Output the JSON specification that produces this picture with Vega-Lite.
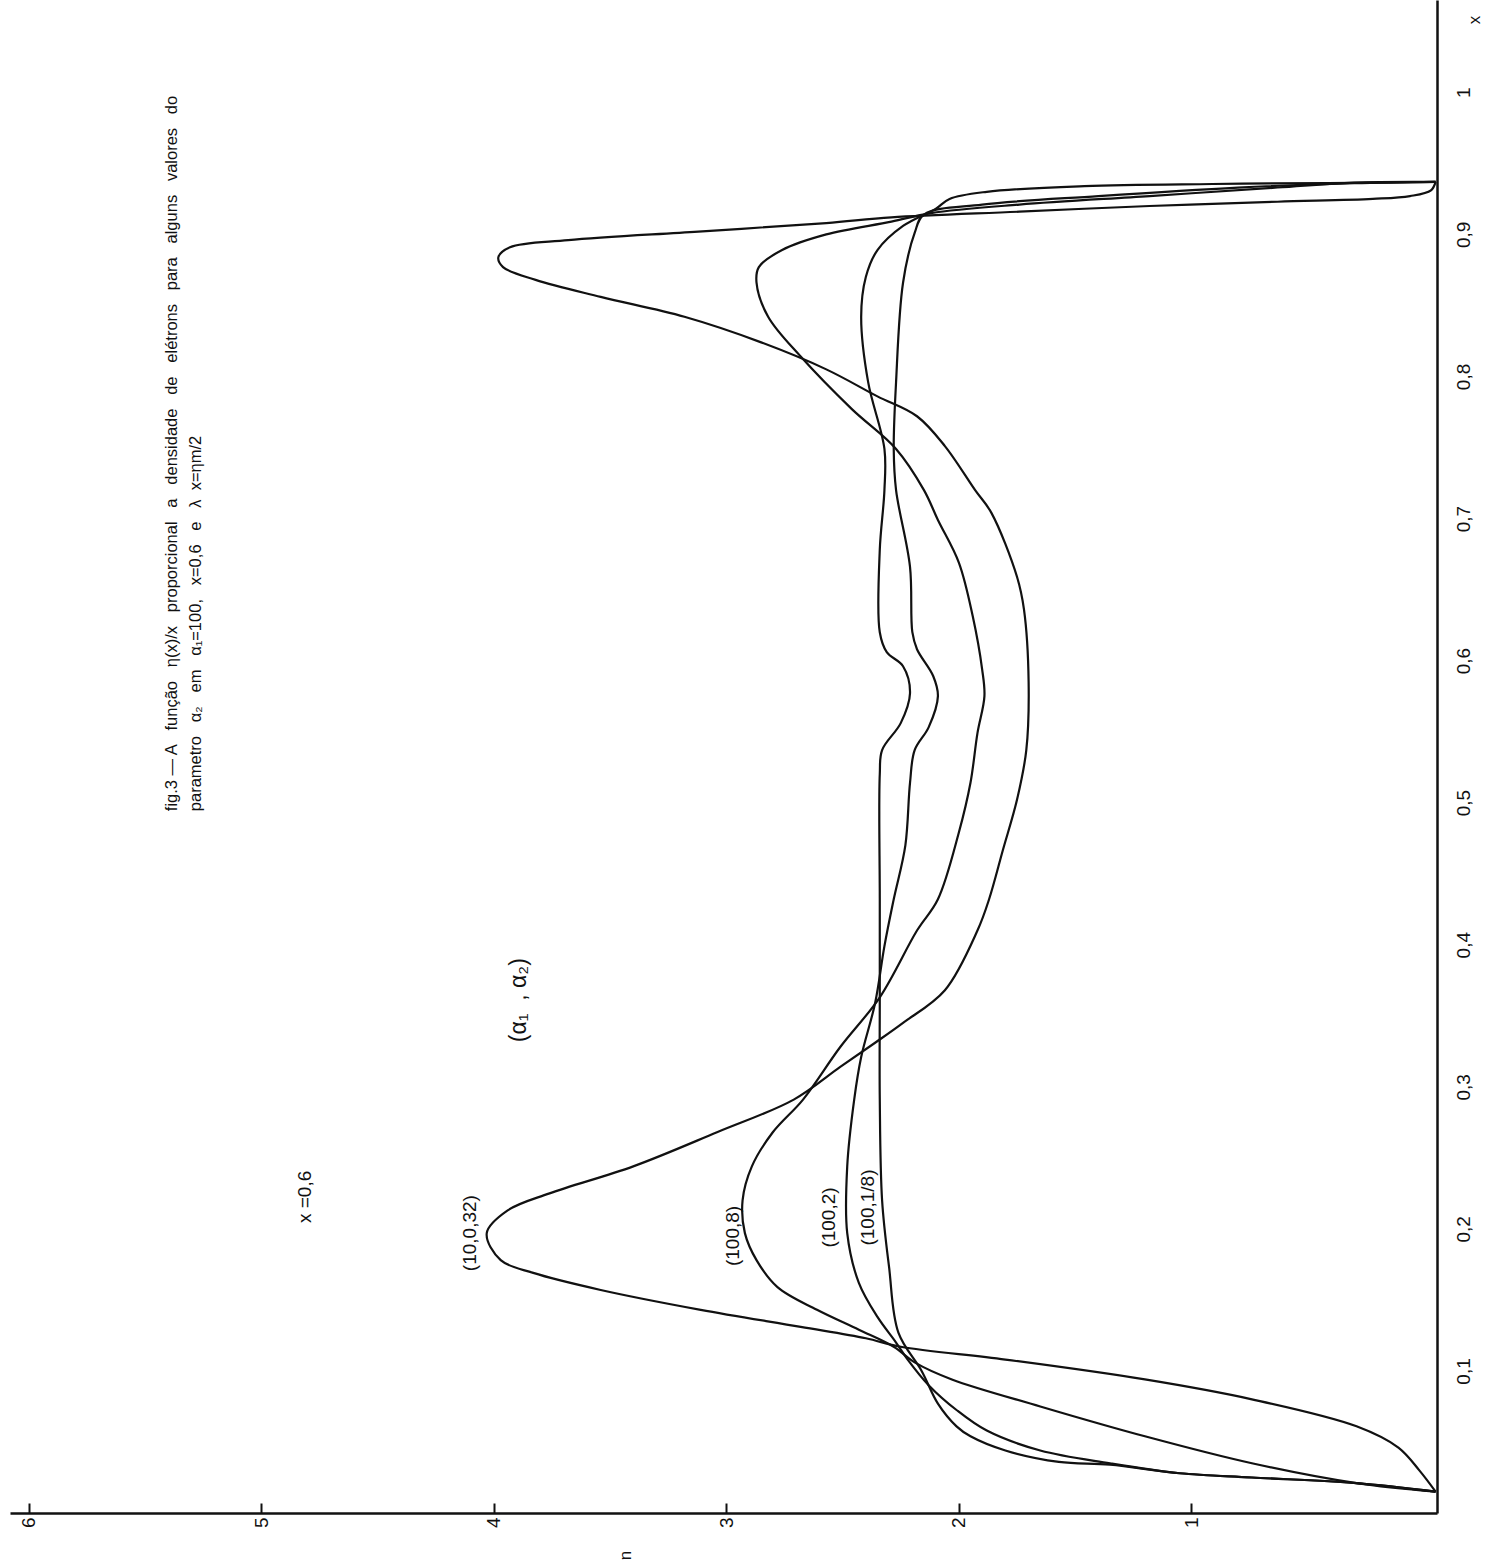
{
 "$schema": "https://vega.github.io/schema/vega-lite/v6.json",
 "width": 1427, "height": 1513,
 "autosize": "none",
 "padding": {"left": 10, "top": 0, "right": 63, "bottom": 53},
 "background": "white",
 "config": {"view": {"stroke": null}, "font": "Liberation Sans", "text": {"font": "Liberation Sans", "color": "#111"}},
 "layer": [
  {
   "data": {"values": [
    {"s":"A","x":0.015,"n":-0.05},{"s":"A","x":0.030,"n":0.02},{"s":"A","x":0.046,"n":0.11},{"s":"A","x":0.061,"n":0.29},{"s":"A","x":0.080,"n":0.74},{"s":"A","x":0.094,"n":1.2},{"s":"A","x":0.108,"n":1.8},{"s":"A","x":0.117,"n":2.25},{"s":"A","x":0.123,"n":2.40},{"s":"A","x":0.131,"n":2.68},{"s":"A","x":0.143,"n":3.11},{"s":"A","x":0.157,"n":3.54},{"s":"A","x":0.169,"n":3.83},{"s":"A","x":0.178,"n":3.97},{"s":"A","x":0.197,"n":4.03},{"s":"A","x":0.213,"n":3.94},{"s":"A","x":0.225,"n":3.76},{"s":"A","x":0.244,"n":3.40},{"s":"A","x":0.268,"n":3.04},{"s":"A","x":0.291,"n":2.71},{"s":"A","x":0.314,"n":2.51},{"s":"A","x":0.331,"n":2.36},{"s":"A","x":0.345,"n":2.24},{"s":"A","x":0.368,"n":2.06},{"s":"A","x":0.41,"n":1.92},{"s":"A","x":0.432,"n":1.87},{"s":"A","x":0.467,"n":1.81},{"s":"A","x":0.502,"n":1.75},{"s":"A","x":0.537,"n":1.71},{"s":"A","x":0.585,"n":1.70},{"s":"A","x":0.636,"n":1.72},{"s":"A","x":0.659,"n":1.75},{"s":"A","x":0.704,"n":1.86},{"s":"A","x":0.720,"n":1.93},{"s":"A","x":0.751,"n":2.06},{"s":"A","x":0.772,"n":2.18},{"s":"A","x":0.786,"n":2.35},{"s":"A","x":0.805,"n":2.57},{"s":"A","x":0.824,"n":2.85},{"s":"A","x":0.842,"n":3.18},{"s":"A","x":0.856,"n":3.54},{"s":"A","x":0.868,"n":3.82},{"s":"A","x":0.877,"n":3.96},{"s":"A","x":0.884,"n":3.98},{"s":"A","x":0.891,"n":3.93},{"s":"A","x":0.896,"n":3.68},{"s":"A","x":0.902,"n":3.12},{"s":"A","x":0.908,"n":2.57},{"s":"A","x":0.912,"n":2.29},{"s":"A","x":0.916,"n":1.74},{"s":"A","x":0.920,"n":1.18},{"s":"A","x":0.923,"n":0.63},{"s":"A","x":0.925,"n":0.22},{"s":"A","x":0.927,"n":0.06},{"s":"A","x":0.931,"n":-0.03},{"s":"A","x":0.937,"n":-0.05},

    {"s":"B","x":0.015,"n":-0.05},{"s":"B","x":0.021,"n":0.29},{"s":"B","x":0.035,"n":0.74},{"s":"B","x":0.054,"n":1.2},{"s":"B","x":0.075,"n":1.65},{"s":"B","x":0.094,"n":2.03},{"s":"B","x":0.106,"n":2.19},{"s":"B","x":0.117,"n":2.28},{"s":"B","x":0.129,"n":2.43},{"s":"B","x":0.143,"n":2.61},{"s":"B","x":0.159,"n":2.78},{"s":"B","x":0.178,"n":2.87},{"s":"B","x":0.197,"n":2.92},{"s":"B","x":0.22,"n":2.93},{"s":"B","x":0.244,"n":2.89},{"s":"B","x":0.268,"n":2.80},{"s":"B","x":0.291,"n":2.67},{"s":"B","x":0.328,"n":2.51},{"s":"B","x":0.363,"n":2.34},{"s":"B","x":0.41,"n":2.18},{"s":"B","x":0.432,"n":2.09},{"s":"B","x":0.479,"n":2.0},{"s":"B","x":0.514,"n":1.95},{"s":"B","x":0.549,"n":1.92},{"s":"B","x":0.575,"n":1.89},{"s":"B","x":0.594,"n":1.90},{"s":"B","x":0.631,"n":1.94},{"s":"B","x":0.669,"n":2.0},{"s":"B","x":0.699,"n":2.09},{"s":"B","x":0.720,"n":2.15},{"s":"B","x":0.749,"n":2.27},{"s":"B","x":0.777,"n":2.46},{"s":"B","x":0.814,"n":2.68},{"s":"B","x":0.842,"n":2.82},{"s":"B","x":0.866,"n":2.87},{"s":"B","x":0.877,"n":2.86},{"s":"B","x":0.889,"n":2.76},{"s":"B","x":0.900,"n":2.57},{"s":"B","x":0.909,"n":2.29},{"s":"B","x":0.915,"n":2.12},{"s":"B","x":0.921,"n":1.74},{"s":"B","x":0.927,"n":1.18},{"s":"B","x":0.933,"n":0.63},{"s":"B","x":0.9365,"n":0.3},{"s":"B","x":0.937,"n":-0.05},

    {"s":"C","x":0.015,"n":-0.05},{"s":"C","x":0.021,"n":0.29},{"s":"C","x":0.025,"n":0.74},{"s":"C","x":0.028,"n":1.05},{"s":"C","x":0.035,"n":1.35},{"s":"C","x":0.044,"n":1.65},{"s":"C","x":0.058,"n":1.88},{"s":"C","x":0.0725,"n":2.01},{"s":"C","x":0.09,"n":2.13},{"s":"C","x":0.108,"n":2.22},{"s":"C","x":0.12,"n":2.27},{"s":"C","x":0.138,"n":2.35},{"s":"C","x":0.162,"n":2.43},{"s":"C","x":0.197,"n":2.48},{"s":"C","x":0.244,"n":2.48},{"s":"C","x":0.291,"n":2.45},{"s":"C","x":0.321,"n":2.42},{"s":"C","x":0.359,"n":2.36},{"s":"C","x":0.399,"n":2.32},{"s":"C","x":0.432,"n":2.28},{"s":"C","x":0.470,"n":2.23},{"s":"C","x":0.514,"n":2.21},{"s":"C","x":0.537,"n":2.19},{"s":"C","x":0.553,"n":2.13},{"s":"C","x":0.575,"n":2.09},{"s":"C","x":0.589,"n":2.11},{"s":"C","x":0.608,"n":2.18},{"s":"C","x":0.620,"n":2.20},{"s":"C","x":0.666,"n":2.21},{"s":"C","x":0.720,"n":2.27},{"s":"C","x":0.749,"n":2.28},{"s":"C","x":0.796,"n":2.27},{"s":"C","x":0.866,"n":2.24},{"s":"C","x":0.901,"n":2.19},{"s":"C","x":0.914,"n":2.15},{"s":"C","x":0.921,"n":1.9},{"s":"C","x":0.927,"n":1.4},{"s":"C","x":0.933,"n":0.8},{"s":"C","x":0.936,"n":0.3},{"s":"C","x":0.937,"n":-0.05},

    {"s":"D","x":0.015,"n":-0.05},{"s":"D","x":0.021,"n":0.29},{"s":"D","x":0.025,"n":0.74},{"s":"D","x":0.028,"n":1.05},{"s":"D","x":0.034,"n":1.35},{"s":"D","x":0.036,"n":1.57},{"s":"D","x":0.044,"n":1.80},{"s":"D","x":0.054,"n":1.95},{"s":"D","x":0.061,"n":2.01},{"s":"D","x":0.077,"n":2.09},{"s":"D","x":0.10,"n":2.16},{"s":"D","x":0.127,"n":2.26},{"s":"D","x":0.173,"n":2.30},{"s":"D","x":0.22,"n":2.33},{"s":"D","x":0.291,"n":2.34},{"s":"D","x":0.363,"n":2.34},{"s":"D","x":0.432,"n":2.34},{"s":"D","x":0.52,"n":2.34},{"s":"D","x":0.537,"n":2.33},{"s":"D","x":0.556,"n":2.25},{"s":"D","x":0.577,"n":2.21},{"s":"D","x":0.596,"n":2.24},{"s":"D","x":0.606,"n":2.31},{"s":"D","x":0.620,"n":2.34},{"s":"D","x":0.678,"n":2.34},{"s":"D","x":0.720,"n":2.32},{"s":"D","x":0.749,"n":2.32},{"s":"D","x":0.796,"n":2.39},{"s":"D","x":0.842,"n":2.42},{"s":"D","x":0.870,"n":2.40},{"s":"D","x":0.889,"n":2.35},{"s":"D","x":0.906,"n":2.24},{"s":"D","x":0.918,"n":2.10},{"s":"D","x":0.925,"n":2.04},{"s":"D","x":0.930,"n":1.88},{"s":"D","x":0.934,"n":1.46},{"s":"D","x":0.9355,"n":0.91},{"s":"D","x":0.9362,"n":0.41},{"s":"D","x":0.9366,"n":0.1},{"s":"D","x":0.937,"n":-0.05}
   ]},
   "mark": {"type": "line", "color": "#111", "strokeWidth": 2.2, "interpolate": "catmull-rom"},
   "encoding": {
    "x": {"field": "n", "type": "quantitative",
      "scale": {"domain": [-0.056, 6.08], "reverse": true, "nice": false, "zero": false},
      "axis": {"orient": "bottom", "values": [1,2,3,4,5,6], "format": "d", "grid": false, "domainColor": "#111", "domainWidth": 2.5, "tickColor": "#111", "tickWidth": 2, "tickSize": -10, "labelAngle": -90, "labelAlign": "right", "labelBaseline": "middle", "labelPadding": 14, "labelFontSize": 19, "labelColor": "#111", "labelFont": "Liberation Sans", "title": null}},
    "y": {"field": "x", "type": "quantitative",
      "scale": {"domain": [0, 1.065], "nice": false, "zero": false},
      "axis": {"orient": "right", "values": [0.1,0.2,0.3,0.4,0.5,0.6,0.7,0.8,0.9,1], "labelExpr": "datum.value >= 0.99 ? '1' : replace(format(datum.value, '.1f'), '.', ',')", "grid": false, "ticks": false, "domainColor": "#111", "domainWidth": 2.5, "labelAngle": -90, "labelAlign": "center", "labelBaseline": "top", "labelPadding": 17, "labelFontSize": 19, "labelColor": "#111", "labelFont": "Liberation Sans", "title": null}},
    "detail": {"field": "s"},
    "order": {"field": "x", "type": "quantitative"}
   }
  },
  {
   "data": {"values": [
    {"t": "(10,0,32)", "x": 0.197, "n": 4.1},
    {"t": "(100,8)", "x": 0.195, "n": 2.97},
    {"t": "(100,2)", "x": 0.208, "n": 2.56},
    {"t": "(100,1/8)", "x": 0.215, "n": 2.39},
    {"t": "x =0,6", "x": 0.2225, "n": 4.81}
   ]},
   "mark": {"type": "text", "angle": -90, "align": "center", "baseline": "middle", "fontSize": 19},
   "encoding": {"x": {"field": "n", "type": "quantitative"}, "y": {"field": "x", "type": "quantitative"}, "text": {"field": "t"}}
  },
  {
   "data": {"values": [
    {"t": "(α₁\u00a0\u00a0,\u00a0α₂)", "x": 0.361, "n": 3.89}
   ]},
   "mark": {"type": "text", "angle": -90, "align": "center", "baseline": "middle", "fontSize": 23},
   "encoding": {"x": {"field": "n", "type": "quantitative"}, "y": {"field": "x", "type": "quantitative"}, "text": {"field": "t"}}
  },
  {
   "data": {"values": [
    {"t": "fig.3\u00a0— A\u00a0\u00a0 função\u00a0\u00a0 η(x)/x\u00a0\u00a0 proporcional\u00a0\u00a0 a\u00a0\u00a0 densidade\u00a0\u00a0 de\u00a0\u00a0 elétrons\u00a0\u00a0 para\u00a0\u00a0 alguns\u00a0\u00a0 valores\u00a0\u00a0 do", "x": 0.494, "n": 5.385},
    {"t": "parametro\u00a0\u00a0 α₂\u00a0\u00a0 em\u00a0\u00a0 α₁=100,\u00a0\u00a0 x=0,6\u00a0\u00a0 e\u00a0\u00a0 λ\u00a0 x=ηm/2", "x": 0.494, "n": 5.28}
   ]},
   "mark": {"type": "text", "angle": -90, "align": "left", "baseline": "middle", "fontSize": 16.5},
   "encoding": {"x": {"field": "n", "type": "quantitative"}, "y": {"field": "x", "type": "quantitative"}, "text": {"field": "t"}}
  },
  {
   "data": {"values": [{"t": "n", "x": -0.03, "n": 3.43}, {"t": "x", "x": 1.051, "n": -0.219}]},
   "mark": {"type": "text", "angle": -90, "align": "center", "baseline": "middle", "fontSize": 17},
   "encoding": {"x": {"field": "n", "type": "quantitative"}, "y": {"field": "x", "type": "quantitative"}, "text": {"field": "t"}}
  }
 ]
}
